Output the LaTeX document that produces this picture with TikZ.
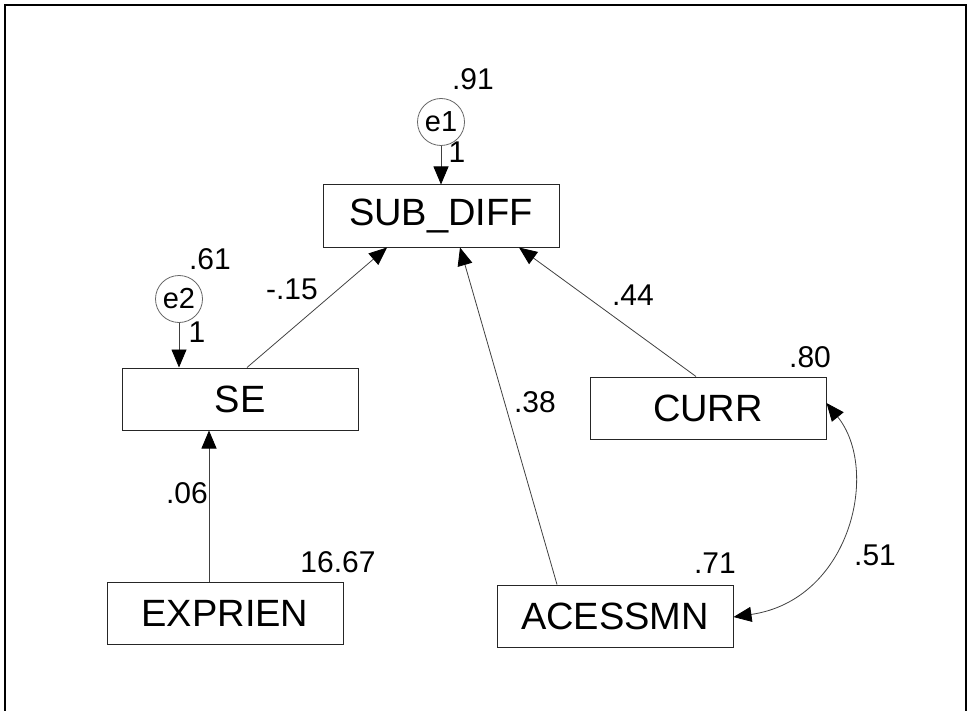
\documentclass[tikz,border=0pt]{standalone}
\usepackage{fontspec}
\setmainfont{Liberation Sans}
\usetikzlibrary{arrows.meta,positioning,calc}

\tikzstyle{LINE_COLOR} = [draw=black!75]
\tikzstyle{var_box}    = [rectangle, draw=black!85, line width=1pt, minimum width=236pt, minimum height=62pt, inner sep=0pt, font=\fontsize{38}{42}\selectfont]
\tikzstyle{err_circle} = [circle, draw=black!60, line width=0.8pt, minimum size=47pt, inner sep=0pt, font=\fontsize{29}{34}\selectfont]
\tikzstyle{est}        = [inner sep=0pt, font=\fontsize{30}{36}\selectfont]
\tikzstyle{tip}        = [>={Triangle[length=18pt,width=15pt,color=black]}]
\tikzstyle{path_arrow} = [LINE_COLOR, line width=0.8pt, tip, ->]
\tikzstyle{cov_arrow}  = [LINE_COLOR, line width=0.8pt, tip, <->]

\begin{document}
\begin{tikzpicture}[x=1pt, y=-1pt]
  \useasboundingbox (0,0) rectangle (968,711);
  % frame, cut off at the bottom
  \draw[line width=2pt] (5,712) -- (5,5) -- (966,5) -- (966,712);

  % observed variables
  \node[var_box] (SUB)  at (441,216) {SUB\_DIFF};
  \node[var_box] (SE)   at (240,399) {SE};
  \node[var_box] (EXP)  at (225,613) {EXPRIEN};
  \node[var_box] (CURR) at (708,408) {CURR};
  \node[var_box] (ACC)  at (615,616) {ACESSMN};

  % error terms
  \node[err_circle] (e1) at (441,122) {e1};
  \node[err_circle] (e2) at (179,299) {e2};

  % paths
  \draw[path_arrow] (e1) -- (SUB);
  \draw[path_arrow] (e2.south) -- (e2.south |- SE.north);
  \draw[path_arrow] ([xshift=-16pt]EXP.north) -- ([xshift=-16pt]EXP.north |- SE.south);
  \draw[path_arrow] ([xshift=7pt]SE.north) -- ([xshift=-54pt]SUB.south);
  \draw[path_arrow] ([xshift=-58pt]ACC.north) -- ([xshift=19pt]SUB.south);
  \draw[path_arrow] ([xshift=-12pt]CURR.north) -- ([xshift=78pt]SUB.south);
  \draw[cov_arrow] ([yshift=5pt]CURR.east) .. controls +(54,67) and +(117,-17) .. ([yshift=-1pt]ACC.east);

  % estimates
  \node[est] (v_SUB)  at (473,79)  {.91};
  \node[est] (w_e1)   at (457,152) {1};
  \node[est] (v_SE)   at (210,259) {.61};
  \node[est] (w_e2)   at (197,332) {1};
  \node[est] (b_SE)   at (292,289) {-.15};
  \node[est] (b_EXP)  at (187,493) {.06};
  \node[est] (v_EXP)  at (338,562) {16.67};
  \node[est] (b_ACC)  at (535,402) {.38};
  \node[est] (b_CURR) at (633,295) {.44};
  \node[est] (v_CURR) at (810,357) {.80};
  \node[est] (v_ACC)  at (715,563) {.71};
  \node[est] (c_CA)   at (875,555) {.51};
\end{tikzpicture}
\end{document}
